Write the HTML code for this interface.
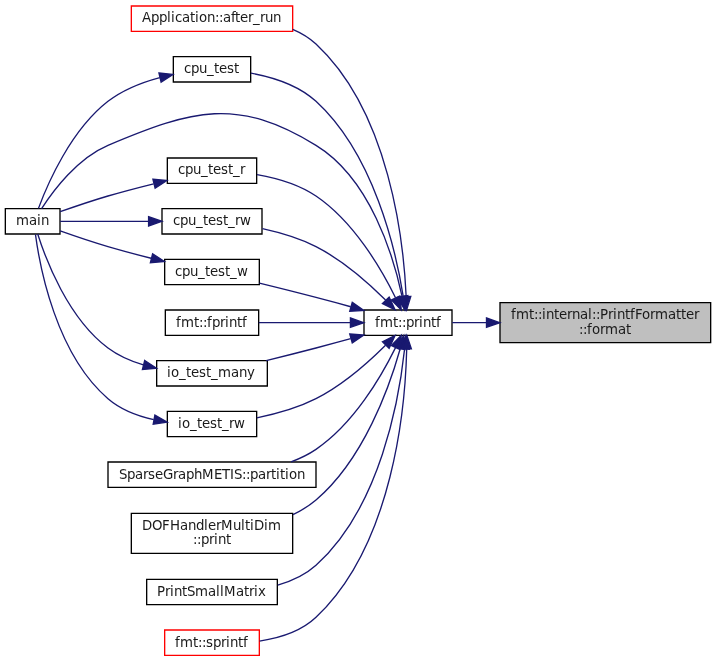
<!DOCTYPE html>
<html lang="en">
<head>
<meta charset="utf-8">
<title>fmt::internal::PrintfFormatter::format caller graph</title>
<style>
html,body{margin:0;padding:0;background:#fff;}
svg{display:block;will-change:transform;}
.t{font-family:"DejaVu Sans","Liberation Sans",sans-serif;font-size:10px;fill:#1a1a1a;}
</style>
</head>
<body>
<svg width="716" height="661"
 viewBox="0 0 537 495.75" preserveAspectRatio="none">
<g id="graph0" class="graph" transform="translate(4 492)">
<polygon fill="white" stroke="none" points="-4,4 -4,-492 533,-492 533,4 -4,4"/>
<g id="node1" class="node">
<polygon fill="#bfbfbf" stroke="black" points="371,-235 371,-265 529,-265 529,-235 371,-235"/>
<text class="t" x="379.325 383.075 392.825 396.575 399.575 402.575 405.575 411.575 415.325 421.325 425.075 431.075 437.075 440.075 443.075 446.075 452.075 455.825 458.825 464.825 468.575 472.325 477.575 483.575 487.325 497.075 503.075 506.825 510.575 516.575" y="-252.675">fmt::internal::PrintfFormatter</text>
<text class="t" x="430.325 433.325 436.325 440.075 446.075 449.825 459.575 465.575" y="-241.425">::format</text>
</g>
<g id="node2" class="node">
<polygon fill="white" stroke="black" points="269,-240.5 269,-259.5 335,-259.5 335,-240.5 269,-240.5"/>
<text class="t" x="277.325 281.075 290.825 294.575 297.575 300.575 306.575 310.325 313.325 319.325 323.075" y="-246.675">fmt::printf</text>
</g>
<g id="edge1" class="edge">
<path fill="none" stroke="midnightblue" d="M360.6,-250C351.6,-250 342.93,-250 335.17,-250"/>
<polygon fill="midnightblue" stroke="midnightblue" points="360.87,-253.5 370.87,-250 360.87,-246.5 360.87,-253.5"/>
</g>
<g id="node3" class="node">
<polygon fill="white" stroke="red" points="94.5,-468.5 94.5,-487.5 215.5,-487.5 215.5,-468.5 94.5,-468.5"/>
<text class="t" x="102.575 109.325 115.325 121.325 124.325 127.325 132.575 138.575 142.325 145.325 151.325 157.325 160.325 163.325 169.325 172.325 176.075 182.075 185.825 191.075 194.825 200.825" y="-475.425">Application::after_run</text>
</g>
<g id="edge2" class="edge">
<path fill="none" stroke="midnightblue" d="M300.61,-269.75C298.69,-311.21 288.17,-407.7 233,-459 227.96,-463.69 221.95,-467.27 215.54,-470"/>
<polygon fill="midnightblue" stroke="midnightblue" points="304.12,-269.72 300.96,-259.6 297.12,-269.48 304.12,-269.72"/>
</g>
<g id="node4" class="node">
<polygon fill="white" stroke="black" points="126,-430.5 126,-449.5 184,-449.5 184,-430.5 126,-430.5"/>
<text class="t" x="134.075 139.325 145.325 151.325 156.575 160.325 166.325 171.575" y="-437.175">cpu_test</text>
</g>
<g id="edge3" class="edge">
<path fill="none" stroke="midnightblue" d="M298.35,-270.17C292.72,-304.95 276.31,-376.29 233,-416 219.69,-428.21 200.24,-434.21 184.22,-437.15"/>
<polygon fill="midnightblue" stroke="midnightblue" points="301.87,-270.28 299.87,-259.87 294.95,-269.25 301.87,-270.28"/>
</g>
<g id="node5" class="node">
<polygon fill="white" stroke="black" points="0,-316.5 0,-335.5 41,-335.5 41,-316.5 0,-316.5"/>
<text class="t" x="8.075 17.825 23.825 26.825" y="-323.175">main</text>
</g>
<g id="edge16" class="edge">
<path fill="none" stroke="midnightblue" d="M297.59,-269.56C291.09,-300.06 273.78,-358.05 233,-383 173.86,-419.19 140.88,-409.96 77,-383 54.09,-373.33 35.96,-349.08 27.21,-335.53"/>
<polygon fill="midnightblue" stroke="midnightblue" points="301.03,-270.16 299.51,-259.67 294.16,-268.82 301.03,-270.16"/>
</g>
<g id="node6" class="node">
<polygon fill="white" stroke="black" points="121.5,-354.5 121.5,-373.5 188.5,-373.5 188.5,-354.5 121.5,-354.5"/>
<text class="t" x="129.575 134.825 140.825 146.825 152.075 155.825 161.825 167.075 170.825 176.075" y="-361.425">cpu_test_r</text>
</g>
<g id="edge5" class="edge">
<path fill="none" stroke="midnightblue" d="M292.65,-268.72C281.97,-290.44 261.41,-325.74 233,-345 220.01,-353.81 203.32,-358.54 188.8,-361.08"/>
<polygon fill="midnightblue" stroke="midnightblue" points="295.88,-270.07 296.97,-259.53 289.54,-267.09 295.88,-270.07"/>
</g>
<g id="node7" class="node">
<polygon fill="white" stroke="black" points="117.5,-316.5 117.5,-335.5 192.5,-335.5 192.5,-316.5 117.5,-316.5"/>
<text class="t" x="125.825 131.075 137.075 143.075 148.325 152.075 158.075 163.325 167.075 172.325 176.075" y="-323.175">cpu_test_rw</text>
</g>
<g id="edge7" class="edge">
<path fill="none" stroke="midnightblue" d="M285.17,-266.95C272.29,-279.77 253.02,-296.84 233,-307 220.6,-313.3 206,-317.58 192.86,-320.46"/>
<polygon fill="midnightblue" stroke="midnightblue" points="287.84,-269.23 292.31,-259.62 282.82,-264.34 287.84,-269.23"/>
</g>
<g id="node8" class="node">
<polygon fill="white" stroke="black" points="119.5,-278.5 119.5,-297.5 190.5,-297.5 190.5,-278.5 119.5,-278.5"/>
<text class="t" x="127.325 132.575 138.575 144.575 149.825 153.575 159.575 164.825 168.575 173.825" y="-284.925">cpu_test_w</text>
</g>
<g id="edge9" class="edge">
<path fill="none" stroke="midnightblue" d="M259.03,-261.94C250.43,-264.33 241.44,-266.78 233,-269 219.15,-272.64 203.85,-276.46 190.55,-279.71"/>
<polygon fill="midnightblue" stroke="midnightblue" points="260.2,-265.25 268.89,-259.19 258.31,-258.51 260.2,-265.25"/>
</g>
<g id="node9" class="node">
<polygon fill="white" stroke="black" points="120,-240.5 120,-259.5 190,-259.5 190,-240.5 120,-240.5"/>
<text class="t" x="128.075 131.825 141.575 145.325 148.325 151.325 155.075 161.075 164.825 167.825 173.825 177.575" y="-246.675">fmt::fprintf</text>
</g>
<g id="edge11" class="edge">
<path fill="none" stroke="midnightblue" d="M258.82,-250C236.98,-250 210.65,-250 190.11,-250"/>
<polygon fill="midnightblue" stroke="midnightblue" points="258.82,-253.5 268.82,-250 258.82,-246.5 258.82,-253.5"/>
</g>
<g id="node10" class="node">
<polygon fill="white" stroke="black" points="113.5,-202.5 113.5,-221.5 196.5,-221.5 196.5,-202.5 113.5,-202.5"/>
<text class="t" x="121.325 124.325 130.325 135.575 139.325 145.325 150.575 154.325 159.575 169.325 175.325 181.325" y="-209.175">io_test_many</text>
</g>
<g id="edge12" class="edge">
<path fill="none" stroke="midnightblue" d="M259.03,-238.06C250.43,-235.67 241.44,-233.22 233,-231 220.88,-227.81 207.65,-224.49 195.63,-221.53"/>
<polygon fill="midnightblue" stroke="midnightblue" points="258.31,-241.49 268.89,-240.81 260.2,-234.75 258.31,-241.49"/>
</g>
<g id="node11" class="node">
<polygon fill="white" stroke="black" points="121.5,-164.5 121.5,-183.5 188.5,-183.5 188.5,-164.5 121.5,-164.5"/>
<text class="t" x="129.575 132.575 138.575 143.825 147.575 153.575 158.825 162.575 167.825 171.575" y="-170.925">io_test_rw</text>
</g>
<g id="edge14" class="edge">
<path fill="none" stroke="midnightblue" d="M285.17,-233.05C272.29,-220.23 253.02,-203.16 233,-193 219.25,-186.02 202.79,-181.51 188.63,-178.65"/>
<polygon fill="midnightblue" stroke="midnightblue" points="282.82,-235.66 292.31,-240.38 287.84,-230.77 282.82,-235.66"/>
</g>
<g id="node12" class="node">
<polygon fill="white" stroke="black" points="77,-126.5 77,-145.5 233,-145.5 233,-126.5 77,-126.5"/>
<text class="t" x="85.325 91.325 97.325 103.325 107.075 112.325 118.325 125.825 129.575 135.575 141.575 147.575 156.575 162.575 168.575 171.575 177.575 180.575 183.575 189.575 195.575 199.325 203.075 206.075 209.825 212.825 218.825" y="-132.675">SparseGraphMETIS::partition</text>
</g>
<g id="edge17" class="edge">
<path fill="none" stroke="midnightblue" d="M292.65,-231.28C281.97,-209.56 261.41,-174.26 233,-155 227.3,-151.14 220.89,-148.06 214.27,-145.6"/>
<polygon fill="midnightblue" stroke="midnightblue" points="289.54,-232.91 296.97,-240.47 295.88,-229.93 289.54,-232.91"/>
</g>
<g id="node13" class="node">
<polygon fill="white" stroke="black" points="94.5,-77 94.5,-107 215.5,-107 215.5,-77 94.5,-77"/>
<text class="t" x="102.575 110.075 117.575 123.575 131.075 137.075 143.075 149.075 152.075 158.075 161.825 170.825 176.825 179.825 183.575 186.575 194.075 197.075" y="-94.425">DOFHandlerMultiDim</text>
<text class="t" x="140.825 143.825 146.825 152.825 156.575 159.575 165.575" y="-83.925">::print</text>
</g>
<g id="edge18" class="edge">
<path fill="none" stroke="midnightblue" d="M296.21,-230.66C288.09,-201.79 268.87,-147.59 233,-117 227.87,-112.62 221.95,-109.01 215.73,-106.02"/>
<polygon fill="midnightblue" stroke="midnightblue" points="292.84,-231.61 298.8,-240.37 299.61,-229.81 292.84,-231.61"/>
</g>
<g id="node14" class="node">
<polygon fill="white" stroke="black" points="106,-38.5 106,-57.5 204,-57.5 204,-38.5 106,-38.5"/>
<text class="t" x="113.825 119.825 123.575 126.575 132.575 136.325 142.325 152.075 158.075 161.075 164.075 173.075 179.075 182.825 186.575 189.575" y="-44.925">PrintSmallMatrix</text>
</g>
<g id="edge19" class="edge">
<path fill="none" stroke="midnightblue" d="M299.46,-230.3C295.45,-192.93 281.36,-111.6 233,-68 225,-60.79 214.72,-56.11 204.31,-53.1"/>
<polygon fill="midnightblue" stroke="midnightblue" points="295.99,-230.76 300.41,-240.39 302.96,-230.11 295.99,-230.76"/>
</g>
<g id="node15" class="node">
<polygon fill="white" stroke="red" points="119.5,-0.5 119.5,-19.5 190.5,-19.5 190.5,-0.5 119.5,-0.5"/>
<text class="t" x="127.325 131.075 140.825 144.575 147.575 150.575 155.825 161.825 165.575 168.575 174.575 178.325" y="-6.675">fmt::sprintf</text>
</g>
<g id="edge20" class="edge">
<path fill="none" stroke="midnightblue" d="M301.03,-230.3C299.96,-187.18 291.12,-83.92 233,-29 221.69,-18.31 205.36,-13.36 190.65,-11.16"/>
<polygon fill="midnightblue" stroke="midnightblue" points="297.53,-230.39 301.15,-240.34 304.53,-230.3 297.53,-230.39"/>
</g>
<g id="edge4" class="edge">
<path fill="none" stroke="midnightblue" d="M115.86,-433.82C102.57,-430.26 88.19,-424.69 77,-416 49.02,-394.27 31.68,-354.15 24.84,-335.72"/>
<polygon fill="midnightblue" stroke="midnightblue" points="115.21,-437.26 125.75,-436.17 116.83,-430.45 115.21,-437.26"/>
</g>
<g id="edge6" class="edge">
<path fill="none" stroke="midnightblue" d="M111.24,-354.16C100.04,-351.39 88.02,-348.24 77,-345 64.98,-341.47 51.7,-336.94 41.14,-333.2"/>
<polygon fill="midnightblue" stroke="midnightblue" points="110.69,-357.63 121.23,-356.59 112.34,-350.82 110.69,-357.63"/>
</g>
<g id="edge8" class="edge">
<path fill="none" stroke="midnightblue" d="M107.29,-326C84.59,-326 58.53,-326 41.14,-326"/>
<polygon fill="midnightblue" stroke="midnightblue" points="107.44,-329.5 117.44,-326 107.44,-322.5 107.44,-329.5"/>
</g>
<g id="edge10" class="edge">
<path fill="none" stroke="midnightblue" d="M109.36,-298.31C98.71,-300.96 87.41,-303.94 77,-307 64.98,-310.53 51.7,-315.06 41.14,-318.8"/>
<polygon fill="midnightblue" stroke="midnightblue" points="110.45,-301.65 119.33,-295.87 108.78,-294.85 110.45,-301.65"/>
</g>
<g id="edge13" class="edge">
<path fill="none" stroke="midnightblue" d="M103.55,-218.31C94.11,-221.13 84.78,-225.19 77,-231 47.02,-253.42 30.41,-297.2 24.28,-316.49"/>
<polygon fill="midnightblue" stroke="midnightblue" points="104.55,-221.67 113.37,-215.8 102.82,-214.89 104.55,-221.67"/>
</g>
<g id="edge15" class="edge">
<path fill="none" stroke="midnightblue" d="M111.29,-177.3C99.1,-180.04 86.56,-184.81 77,-193 38.06,-226.38 25.9,-291.59 22.59,-316.24"/>
<polygon fill="midnightblue" stroke="midnightblue" points="112.17,-180.7 121.37,-175.45 110.9,-173.82 112.17,-180.7"/>
</g>
</g>
</svg>
</body>
</html>
